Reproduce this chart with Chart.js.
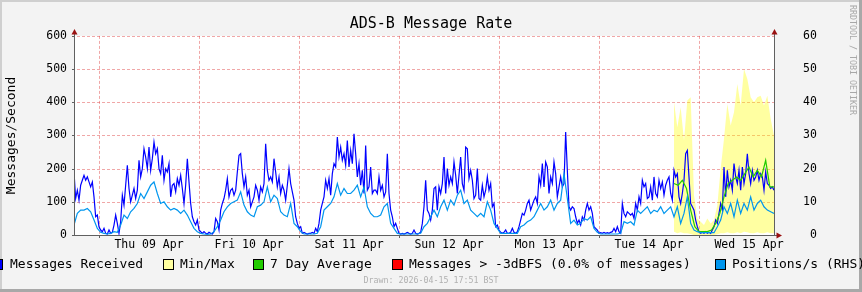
<!DOCTYPE html>
<html><head><meta charset="utf-8">
<script src="https://cdn.jsdelivr.net/npm/chart.js@4.4.1/dist/chart.umd.min.js"></script>
<style>
html,body{margin:0;padding:0;background:#f3f3f3;}
canvas{display:block;}
</style></head><body>
<canvas id="c" width="862" height="292"></canvas>
<script>
// ---- text ----
const chartTitle = 'ADS-B Message Rate';
const yAxisTitle = 'Messages/Second';
const watermark = 'RRDTOOL / TOBI OETIKER';
const drawnText = 'Drawn: 2026-04-15 17:51 BST';
const dayLabels = ['Thu 09 Apr','Fri 10 Apr','Sat 11 Apr','Sun 12 Apr','Mon 13 Apr','Tue 14 Apr','Wed 15 Apr'];
const leftTicks = [0,100,200,300,400,500,600];
const rightTicks = [0,10,20,30,40,50,60];
const legendLabels = ['Messages Received','Min/Max','7 Day Average','Messages > -3dBFS (0.0% of messages)','Positions/s (RHS)'];

// ---- data (time in hours, 0 = Wed 08 Apr 18:00) ----
const msgStepHours = 0.4;
const messagesReceived = [
190,110,135,105,150,165,180,165,175,160,145,160,115,55,60,25,15,10,20,5,
3,15,5,8,30,60,35,5,40,120,90,150,210,140,100,120,140,110,135,225,
175,200,260,235,200,265,195,230,280,245,260,200,185,240,165,200,190,215,115,150,
155,130,170,150,180,140,95,150,230,160,95,55,40,30,45,15,10,5,10,5,
3,8,5,3,10,50,40,15,75,95,110,135,170,115,135,140,120,135,190,240,
245,185,145,175,120,135,85,100,115,150,135,105,145,130,155,275,195,165,175,160,
230,190,145,175,125,150,135,105,150,200,155,130,105,55,35,20,25,5,8,5,
3,5,5,8,5,20,10,35,75,95,115,165,140,170,120,185,215,205,295,235,
265,225,245,210,285,205,255,215,305,245,175,215,150,195,125,270,135,145,205,125,
135,135,125,175,135,150,115,130,245,125,75,55,25,35,20,5,3,5,3,5,
8,5,3,5,15,5,3,5,8,35,85,165,75,65,45,75,140,145,75,145,
125,155,235,125,200,150,175,155,220,180,125,180,235,155,135,265,260,170,195,165,
110,120,200,110,105,150,115,135,175,135,155,85,95,25,30,15,8,5,8,15,
5,5,8,20,8,5,10,25,45,65,60,75,95,105,75,90,105,115,95,175,
150,215,145,220,205,125,175,155,220,185,115,145,175,145,155,310,195,85,75,85,
80,55,35,45,30,55,45,75,95,75,85,65,25,20,15,5,7,5,8,5,
7,5,8,10,20,10,25,10,5,95,65,55,70,65,60,65,50,95,75,115,
95,165,145,155,110,115,145,105,175,125,115,165,140,160,120,150,165,175,125,105,
195,175,185,115,95,125,165,245,255,175,95,85,75,45,25,10,5,8,5,10,
5,8,5,15,25,45,35,65,95,75,205,115,195,145,165,135,215,175,155,195,
135,205,155,185,245,185,155,195,165,175,195,165,185,175,135,190,155,150,140,145,
135];
const posStepHours = 0.8;
const positionsPerSec = [
3.0,6.5,7.5,7.5,8.0,7.0,4.5,2.0,0.8,0.5,0.3,0.5,1.0,0.8,3.0,6.0,5.0,7.0,8.0,9.5,
12.5,11.0,13.0,15.0,16.0,12.5,9.5,10.0,8.5,7.5,8.0,7.5,6.5,7.5,6.0,4.0,2.0,1.0,0.5,0.3,
0.2,0.3,1.0,2.5,4.5,7.0,8.5,9.5,10.0,10.5,13.0,9.0,7.0,6.0,5.5,8.5,9.0,10.0,14.5,10.0,
12.0,11.0,7.0,6.0,5.5,9.5,3.5,2.5,1.0,0.3,0.3,0.3,0.3,0.5,2.5,7.5,8.5,9.5,11.5,15.5,
12.0,14.0,12.5,12.5,13.5,15.0,11.5,14.5,8.5,6.5,5.5,5.5,6.0,8.5,9.5,3.5,2.0,0.5,0.3,0.3,
0.3,0.3,0.3,0.3,0.5,2.5,3.5,5.5,7.5,5.5,8.5,10.5,7.5,10.5,9.0,12.0,13.5,9.5,10.5,7.5,
6.5,5.5,6.5,5.5,10.0,7.5,3.5,2.0,0.5,0.5,0.5,0.5,0.5,0.5,2.5,3.0,4.0,4.5,5.5,7.5,
9.5,7.5,8.5,10.5,7.5,9.5,10.5,18.5,11.0,3.5,4.5,3.0,3.5,5.0,4.5,5.5,2.0,0.8,0.3,0.3,
0.3,0.3,0.3,0.3,0.5,4.0,3.5,4.0,3.0,7.5,6.5,7.5,8.5,6.5,7.5,7.0,8.5,6.5,7.5,8.5,
5.5,8.5,3.5,6.5,11.5,3.5,1.5,1.0,0.7,0.7,0.7,0.7,0.7,2.5,4.5,8.5,6.5,9.5,5.5,10.5,
6.5,9.5,7.5,11.5,7.5,9.5,10.5,8.5,7.5,7.0,6.5];
const avgStartHour = 144, avgStepHours = 1;
const weekAverage = [155,150,165,140,75,25,10,10,10,15,35,65,115,155,165,175,165,185,205,175,195,175,225,145,145];
const rangeStartHour = 144, rangeStepHours = 0.8;
const maxValues = [400,325,385,285,405,415,120,50,40,30,50,35,45,90,200,290,395,330,370,455,390,500,470,415,400,415,420,390,420,350,300];
const minValues = [10,5,8,5,5,3,0,0,0,0,0,0,0,2,5,5,8,5,5,8,5,10,8,5,5,8,5,5,8,5,5];
const strongMessages = []; // 0.0% of messages: nothing to draw

const COL = {blue:'#0000ff', yellow:'rgba(255,255,0,0.37)', yellowBox:'#ffffa0', green:'#22cc00', red:'#ff0000', cyan:'#0096ee'};
const FONT = 'DejaVu Sans Mono';
const pts = (arr, start, step) => arr.map((v,i)=>({x:start+i*step, y:v}));

const decor = {
  id:'decor',
  beforeDraw(chart){
    const ctx = chart.ctx, a = chart.chartArea, W = chart.width, H = chart.height;
    ctx.save();
    ctx.fillStyle = '#f3f3f3'; ctx.fillRect(0,0,W,H);
    ctx.fillStyle = '#cfcfcf'; ctx.fillRect(0,0,W,2); ctx.fillRect(0,0,2,H);
    ctx.fillStyle = '#a8a8a8'; ctx.fillRect(0,H-3,W,3); ctx.fillRect(W-3,0,3,H);
    ctx.fillStyle = '#ffffff'; ctx.fillRect(a.left, a.top, a.right-a.left, a.bottom-a.top);
    ctx.restore();
  },
  beforeDatasetsDraw(chart){
    const ctx = chart.ctx, a = chart.chartArea, ys = chart.scales.y, xs = chart.scales.x;
    ctx.save();
    ctx.strokeStyle = 'rgba(225,80,80,0.5)'; ctx.lineWidth = 1; ctx.setLineDash([3,2]);
    leftTicks.forEach(v=>{
      const y = Math.round(ys.getPixelForValue(v)) + 0.5;
      ctx.beginPath(); ctx.moveTo(a.left-2, y); ctx.lineTo(a.right+3, y); ctx.stroke();
    });
    for (let i=0;i<dayLabels.length;i++){
      const x = Math.round(xs.getPixelForValue(6+24*i)) + 0.5;
      ctx.beginPath(); ctx.moveTo(x, a.top); ctx.lineTo(x, a.bottom); ctx.stroke();
    }
    ctx.restore();
  },
  afterDatasetsDraw(chart){
    const ctx = chart.ctx, a = chart.chartArea, xs = chart.scales.x, ys = chart.scales.y;
    ctx.save();
    ctx.strokeStyle = '#606060'; ctx.lineWidth = 1; ctx.setLineDash([]);
    ctx.beginPath();
    ctx.moveTo(a.left+0.5, a.top-3); ctx.lineTo(a.left+0.5, a.bottom+1);
    ctx.moveTo(a.right+0.5, a.top-3); ctx.lineTo(a.right+0.5, a.bottom+1);
    ctx.moveTo(a.left-2, a.bottom+0.5); ctx.lineTo(a.right+4, a.bottom+0.5);
    for (let i=0;i<dayLabels.length;i++){
      const x = Math.round(xs.getPixelForValue(6+24*i)) + 0.5;
      ctx.moveTo(x, a.bottom); ctx.lineTo(x, a.bottom+3);
    }
    leftTicks.forEach(v=>{
      const y = Math.round(ys.getPixelForValue(v)) + 0.5;
      ctx.moveTo(a.left-2, y); ctx.lineTo(a.left, y);
    });
    ctx.stroke();
    ctx.fillStyle = '#9a1010';
    const tri = (p)=>{ctx.beginPath(); ctx.moveTo(p[0],p[1]); ctx.lineTo(p[2],p[3]); ctx.lineTo(p[4],p[5]); ctx.closePath(); ctx.fill();};
    tri([a.left+0.5, a.top-7, a.left-2.5, a.top-1.5, a.left+3.5, a.top-1.5]);
    tri([a.right+0.5, a.top-7, a.right-2.5, a.top-1.5, a.right+3.5, a.top-1.5]);
    tri([a.right+8, a.bottom+0.5, a.right+2.5, a.bottom-2.5, a.right+2.5, a.bottom+3.5]);
    ctx.restore();
  },
  afterDraw(chart){
    const ctx = chart.ctx, W = chart.width;
    ctx.save();
    ctx.fillStyle = '#000'; ctx.textAlign = 'center'; ctx.textBaseline = 'middle';
    ctx.font = '15px "' + FONT + '"';
    ctx.fillText(chartTitle, W/2, 24);
    const boxX = [-8,163,253,392,715], txtX = [10,180,270,409,732];
    const cols = [COL.blue, COL.yellowBox, COL.green, COL.red, COL.cyan];
    ctx.font = '13px "' + FONT + '"'; ctx.textAlign = 'left';
    legendLabels.forEach((t,i)=>{
      ctx.fillStyle = cols[i]; ctx.fillRect(boxX[i], 259, 11, 11);
      ctx.strokeStyle = '#000'; ctx.lineWidth = 1; ctx.strokeRect(boxX[i]+0.5, 259.5, 10, 10);
      ctx.fillStyle = '#000'; ctx.fillText(t, txtX[i], 265);
    });
    ctx.fillStyle = '#b0b0b0'; ctx.font = '8.3px "' + FONT + '"';
    ctx.textAlign = 'center'; ctx.fillText(drawnText, W/2, 281);
    ctx.save(); ctx.translate(852, 5); ctx.rotate(Math.PI/2);
    ctx.textAlign = 'left'; ctx.fillStyle = '#a8a8a8'; ctx.fillText(watermark, 0, 0);
    ctx.restore();
    ctx.restore();
  }
};

const tickFont = {family: FONT, size: 11.5};
new Chart(document.getElementById('c'), {
  type: 'line',
  data: {
    datasets: [
      {label:'min', data: pts(minValues, rangeStartHour, rangeStepHours), yAxisID:'y', borderWidth:0, pointRadius:0, fill:false, order:5},
      {label:legendLabels[1], data: pts(maxValues, rangeStartHour, rangeStepHours), yAxisID:'y', borderWidth:0, pointRadius:0, backgroundColor:COL.yellow, fill:'-1', order:4},
      {label:legendLabels[0], data: pts(messagesReceived, 0, msgStepHours), yAxisID:'y', borderColor:COL.blue, borderWidth:1.2, pointRadius:0, fill:false, order:2},
      {label:legendLabels[2], data: pts(weekAverage, avgStartHour, avgStepHours), yAxisID:'y', borderColor:COL.green, borderWidth:1.2, pointRadius:0, fill:false, order:1},
      {label:legendLabels[3], data: pts(strongMessages, 0, msgStepHours), yAxisID:'y', borderColor:COL.red, borderWidth:1, pointRadius:0, fill:false, order:3},
      {label:legendLabels[4], data: pts(positionsPerSec, 0, posStepHours), yAxisID:'y2', borderColor:COL.cyan, borderWidth:1.2, pointRadius:0, fill:false, order:0}
    ]
  },
  options: {
    responsive:false, animation:false, devicePixelRatio:1,
    layout:{padding:{top:35,left:0,right:0,bottom:0}},
    elements:{line:{tension:0}},
    plugins:{legend:{display:false}, title:{display:false}, tooltip:{enabled:false}},
    scales:{
      x:{type:'linear', min:0, max:168, position:'bottom',
        grid:{display:false, drawTicks:false}, border:{display:false},
        afterBuildTicks:s=>{ s.ticks = dayLabels.map((_,i)=>({value:18+24*i})); },
        ticks:{autoSkip:false, maxRotation:0, minRotation:0, padding:3, color:'#000', font:tickFont,
          callback:(v,i)=>dayLabels[i]},
        afterFit:s=>{ s.height = 57; }
      },
      y:{position:'left', min:0, max:600,
        grid:{display:false, drawTicks:false}, border:{display:false},
        afterBuildTicks:s=>{ s.ticks = leftTicks.map(v=>({value:v})); },
        ticks:{padding:7, color:'#000', font:tickFont},
        title:{display:true, text:yAxisTitle, color:'#000', font:{family:FONT, size:13}, padding:{top:4,bottom:0}},
        afterFit:s=>{ s.width = 74; }
      },
      y2:{position:'right', min:0, max:60,
        grid:{display:false, drawTicks:false}, border:{display:false},
        afterBuildTicks:s=>{ s.ticks = rightTicks.map(v=>({value:v})); },
        ticks:{padding:29, crossAlign:'near', color:'#000', font:tickFont,
          callback:v=>String(v).padStart(2,' ')},
        afterFit:s=>{ s.width = 88; }
      }
    }
  },
  plugins:[decor]
});
</script>
</body></html>
